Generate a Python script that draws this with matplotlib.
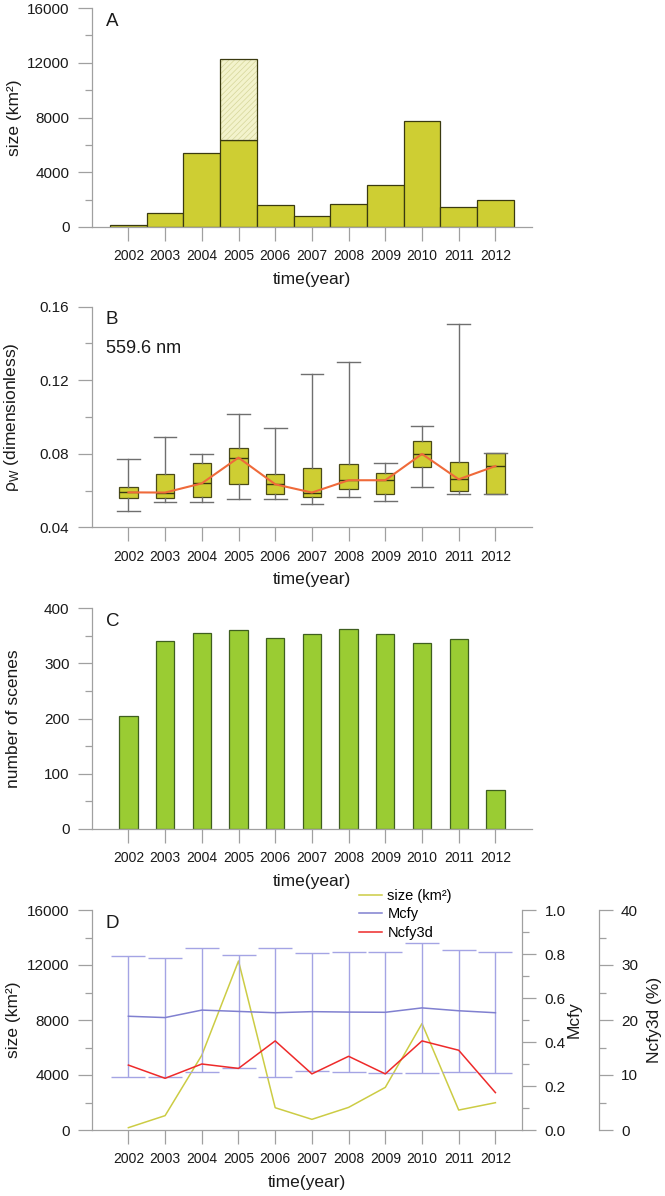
"""Four stacked panels: bloom size, rho_w boxes, scene counts, Mcfy/Ncfy3d."""

import matplotlib
matplotlib.use("Agg")
import matplotlib.pyplot as plt
from matplotlib.ticker import MultipleLocator

plt.rcParams["font.family"] = ["Liberation Sans", "DejaVu Sans"]
plt.rcParams["hatch.linewidth"] = 0.5

years = [2002, 2003, 2004, 2005, 2006, 2007, 2008, 2009, 2010, 2011, 2012]
year_labels = [str(y) for y in years]

# panel A: bloom size, 2005 split into solid + hatched part
size_solid = [170, 1045, 5440, 6340, 1620, 775, 1645, 3100, 7740, 1450, 1985]
size_hatched = [0, 0, 0, 5950, 0, 0, 0, 0, 0, 0, 0]

# panel B: rho_w at 559.6 nm
rho_whislo = [0.0491, 0.0536, 0.0536, 0.0552, 0.0554, 0.0529, 0.0567, 0.0541, 0.0621, 0.0581, 0.0579]
rho_q1 = [0.0558, 0.0558, 0.0563, 0.0634, 0.0583, 0.0567, 0.0607, 0.0579, 0.0730, 0.0596, 0.0579]
rho_med = [0.0590, 0.0589, 0.0639, 0.0779, 0.0634, 0.0589, 0.0656, 0.0656, 0.0799, 0.0661, 0.0733]
rho_q3 = [0.0619, 0.0692, 0.0748, 0.0833, 0.0688, 0.0724, 0.0743, 0.0697, 0.0871, 0.0753, 0.0802]
rho_whishi = [0.0772, 0.0889, 0.0797, 0.1016, 0.0938, 0.1236, 0.1299, 0.0750, 0.0951, 0.1507, 0.0802]

# panel C: number of scenes
scenes = [204, 341, 355, 360, 347, 354, 362, 354, 338, 345, 71]

# panel D
mcfy_mean = [0.517, 0.511, 0.545, 0.539, 0.533, 0.538, 0.536, 0.535, 0.555, 0.542, 0.533]
mcfy_std = [0.275, 0.272, 0.281, 0.255, 0.293, 0.268, 0.274, 0.275, 0.294, 0.278, 0.275]
ncfy3d = [11.8, 9.4, 12.0, 11.2, 16.2, 10.2, 13.4, 10.2, 16.2, 14.5, 6.8]

GREY = "#a0a0a0"
TXT = "#1a1a1a"
W, H = 665, 1196
X0 = 91.7          # left spine, px
YR = 36.7          # px per year


def px_axes(fig, left, right, top, bottom):
    return fig.add_axes([left / W, 1 - bottom / H, (right - left) / W, (bottom - top) / H])


def style(ax, ylim, major, minor, width_px, letter):
    ax.set_ylim(*ylim)
    ax.set_xlim(2001, 2001 + width_px / YR)
    for s in ("top", "right"):
        ax.spines[s].set_visible(False)
    for s in ("left", "bottom"):
        ax.spines[s].set_color(GREY)
        ax.spines[s].set_linewidth(0.9)
    ax.yaxis.set_major_locator(MultipleLocator(major))
    ax.yaxis.set_minor_locator(MultipleLocator(minor))
    ax.set_xticks(years)
    ax.set_xticklabels(year_labels)
    ax.tick_params(axis="x", length=10, width=0.9, color=GREY, pad=6,
                   labelsize=10, labelcolor=TXT)
    ax.tick_params(axis="y", which="major", length=10, width=0.9, color=GREY,
                   pad=6, labelsize=11, labelcolor=TXT)
    ax.tick_params(axis="y", which="minor", length=5.3, width=0.9, color=GREY)
    ax.set_xlabel("time(year)", fontsize=12.5, color=TXT, labelpad=6)
    ax.yaxis.set_label_coords((21.5 - X0) / width_px, 0.5)
    ax.text(14 / width_px, 0.94, letter, transform=ax.transAxes, fontsize=13.5,
            color=TXT, ha="left", va="center")


fig = plt.figure(figsize=(W / 100, H / 100), dpi=100)

# ---- A
axA = px_axes(fig, X0, 531.7, 8, 227)
axA.bar(years, size_solid, width=1.0, color="#cece33", edgecolor="#3a3a10", linewidth=0.9, zorder=2)
axA.bar(years, size_hatched, width=1.0, bottom=size_solid, color="#f3f3cc",
        edgecolor="#d6d69a", hatch="//////", linewidth=0, zorder=2)
axA.bar(years, size_hatched, width=1.0, bottom=size_solid, fill=False,
        edgecolor=[("#3a3a10" if h > 0 else "none") for h in size_hatched], linewidth=0.9, zorder=3)
style(axA, (0, 16000), 4000, 2000, 440, "A")
axA.set_ylabel("size (km²)", fontsize=12.5, color=TXT)

# ---- B
axB = px_axes(fig, X0, 531.7, 306.7, 527.3)
stats = [dict(med=m, q1=a, q3=b, whislo=lo, whishi=hi, fliers=[])
         for m, a, b, lo, hi in zip(rho_med, rho_q1, rho_q3, rho_whislo, rho_whishi)]
axB.bxp(stats, positions=years, widths=0.5, capwidths=0.62, patch_artist=True,
        showfliers=False,
        boxprops=dict(facecolor="#cece33", edgecolor="#4a4a1a", linewidth=0.9),
        medianprops=dict(color="#3a3a10", linewidth=1.0),
        whiskerprops=dict(color="#6f6f6f", linewidth=1.0),
        capprops=dict(color="#6f6f6f", linewidth=1.0), zorder=2)
axB.plot(years, rho_med, color="#ef6a3a", linewidth=1.5, zorder=4)
style(axB, (0.04, 0.16), 0.04, 0.02, 440, "B")
axB.set_ylabel("ρ$_\\mathregular{W}$ (dimensionless)", fontsize=12.5, color=TXT)
axB.text(14 / 440, 0.81, "559.6 nm", transform=axB.transAxes, fontsize=13,
         color=TXT, ha="left", va="center")

# ---- C
axC = px_axes(fig, X0, 531.7, 608.3, 829)
axC.bar(years, scenes, width=0.5, color="#9acc33", edgecolor="#3f5f1f", linewidth=0.9, zorder=2)
style(axC, (0, 400), 100, 50, 440, "C")
axC.set_ylabel("number of scenes", fontsize=12.5, color=TXT)

# ---- D
WD = 430.6
axD = px_axes(fig, X0, X0 + WD, 910, 1130)
size_total = [a + b for a, b in zip(size_solid, size_hatched)]
l1, = axD.plot(years, size_total, color="#cccc44", linewidth=1.1, zorder=3, label="size (km²)")
style(axD, (0, 16000), 4000, 2000, WD, "D")
axD.set_ylabel("size (km²)", fontsize=12.5, color=TXT)

axM = axD.twinx()
axM.errorbar(years, mcfy_mean, yerr=mcfy_std, color="#8080d0", ecolor="#a4a4e4",
             elinewidth=1.0, capsize=12.5, capthick=1.0, linewidth=1.1, zorder=2)
l2, = axM.plot([], [], color="#8080d0", linewidth=1.1, label="Mcfy")
axM.set_ylim(0, 1)
axM.yaxis.set_major_locator(MultipleLocator(0.2))
axM.yaxis.set_minor_locator(MultipleLocator(0.1))
axM.yaxis.set_major_formatter(lambda v, p: f"{v:.1f}")
axM.set_ylabel("Mcfy", fontsize=12.5, color=TXT)
axM.yaxis.set_label_coords((567 - X0) / WD, 0.5)

axN = axD.twinx()
axN.spines["right"].set_position(("axes", 1 + 76.5 / WD))
axN.plot(years, ncfy3d, color="#ee2a2a", linewidth=1.1, zorder=4)
l3, = axN.plot([], [], color="#ee2a2a", linewidth=1.1, label="Ncfy3d")
axN.set_ylim(0, 40)
axN.yaxis.set_major_locator(MultipleLocator(10))
axN.yaxis.set_minor_locator(MultipleLocator(5))
axN.set_ylabel("Ncfy3d (%)", fontsize=12.5, color=TXT)
axN.yaxis.set_label_coords((647 - X0) / WD, 0.5)

for ax in (axM, axN):
    for s in ("top", "left", "bottom"):
        ax.spines[s].set_visible(False)
    ax.spines["right"].set_color(GREY)
    ax.spines["right"].set_linewidth(0.9)
    ax.tick_params(axis="y", which="major", length=10, width=0.9, color=GREY,
                   pad=6, labelsize=11, labelcolor=TXT)
    ax.tick_params(axis="y", which="minor", length=5.3, width=0.9, color=GREY)

axD.legend(handles=[l1, l2, l3], loc="upper left", bbox_to_anchor=((359 - X0) / WD, 1.095),
           frameon=False, fontsize=10.5, handlelength=1.6, handletextpad=0.35,
           labelspacing=0.3, borderpad=0, borderaxespad=0)

fig.savefig("out.png", dpi=100)
